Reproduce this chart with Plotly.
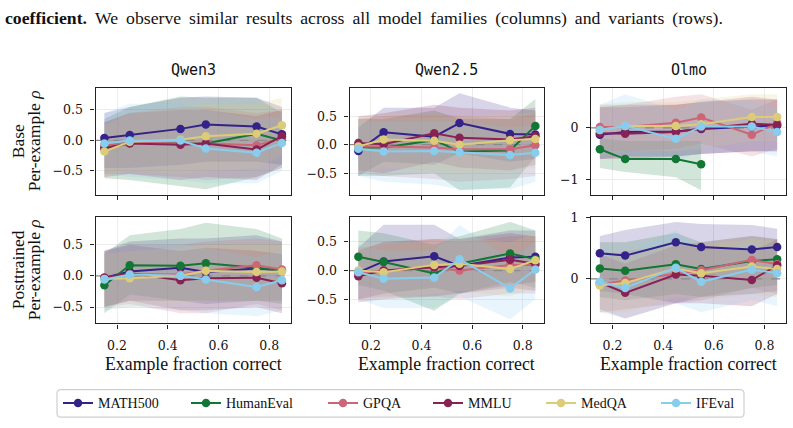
import plotly.graph_objects as go
from plotly.subplots import make_subplots

W, H = 793, 428

# ---------------- data ----------------
X = [0.15, 0.25, 0.45, 0.55, 0.75, 0.85]
SERIES = ["MATH500", "HumanEval", "GPQA", "MMLU", "MedQA", "IFEval"]
COLORS = ["#332288", "#117733", "#CC6677", "#882255", "#DDCC77", "#88CCEE"]
FAMILIES = ["Qwen3", "Qwen2.5", "Olmo"]
VARIANTS = ["Base", "Posttrained"]
X_TICKS = [0.2, 0.4, 0.6, 0.8]

# Qwen3 Base
QWEN3_BASE_MEAN = {
    "MATH500": [0.04, 0.09, 0.19, 0.26, 0.23, 0.10],
    "HumanEval": [-0.12, -0.03, -0.05, -0.05, 0.11, 0.00],
    "GPQA": [-0.08, -0.03, -0.05, -0.05, -0.08, 0.04],
    "MMLU": [-0.13, -0.05, -0.07, -0.05, -0.15, 0.07],
    "MedQA": [-0.18, -0.02, 0.01, 0.07, 0.11, 0.25],
    "IFEval": [-0.05, 0.00, 0.00, -0.13, -0.20, -0.04],
}
QWEN3_BASE_LO = {
    "MATH500": [-0.45, -0.45, -0.40, -0.35, -0.35, -0.40],
    "HumanEval": [-0.62, -0.65, -0.75, -0.80, -0.60, -0.45],
    "GPQA": [-0.55, -0.55, -0.60, -0.65, -0.60, -0.45],
    "MMLU": [-0.60, -0.55, -0.65, -0.60, -0.65, -0.40],
    "MedQA": [-0.60, -0.50, -0.55, -0.50, -0.45, -0.25],
    "IFEval": [-0.55, -0.60, -0.65, -0.70, -0.70, -0.50],
}
QWEN3_BASE_HI = {
    "MATH500": [0.45, 0.55, 0.70, 0.72, 0.70, 0.55],
    "HumanEval": [0.35, 0.55, 0.72, 0.70, 0.70, 0.45],
    "GPQA": [0.30, 0.45, 0.55, 0.55, 0.45, 0.50],
    "MMLU": [0.30, 0.45, 0.50, 0.50, 0.40, 0.50],
    "MedQA": [0.25, 0.45, 0.55, 0.60, 0.60, 0.70],
    "IFEval": [0.45, 0.60, 0.60, 0.50, 0.35, 0.40],
}

# Qwen2.5 Base
QWEN25_BASE_MEAN = {
    "MATH500": [-0.11, 0.22, 0.14, 0.38, 0.19, 0.18],
    "HumanEval": [-0.05, -0.05, 0.08, -0.12, -0.10, 0.33],
    "GPQA": [-0.03, -0.03, -0.05, -0.08, -0.08, -0.01],
    "MMLU": [0.03, 0.01, 0.20, 0.12, 0.09, 0.15],
    "MedQA": [-0.03, 0.09, 0.07, 0.00, 0.08, 0.10],
    "IFEval": [-0.07, -0.12, -0.11, -0.13, -0.18, -0.14],
}
QWEN25_BASE_LO = {
    "MATH500": [-0.55, -0.30, -0.35, -0.15, -0.30, -0.25],
    "HumanEval": [-0.55, -0.55, -0.50, -0.80, -0.75, -0.20],
    "GPQA": [-0.50, -0.55, -0.60, -0.65, -0.60, -0.55],
    "MMLU": [-0.45, -0.50, -0.30, -0.40, -0.45, -0.35],
    "MedQA": [-0.50, -0.40, -0.45, -0.50, -0.45, -0.40],
    "IFEval": [-0.55, -0.65, -0.70, -0.78, -0.78, -0.65],
}
QWEN25_BASE_HI = {
    "MATH500": [0.30, 0.65, 0.65, 0.90, 0.65, 0.60],
    "HumanEval": [0.45, 0.45, 0.60, 0.45, 0.45, 0.80],
    "GPQA": [0.45, 0.50, 0.55, 0.50, 0.45, 0.55],
    "MMLU": [0.50, 0.55, 0.70, 0.65, 0.60, 0.65],
    "MedQA": [0.45, 0.55, 0.55, 0.50, 0.55, 0.55],
    "IFEval": [0.40, 0.40, 0.40, 0.40, 0.30, 0.35],
}

# Olmo Base (HumanEval only has the first four bins)
OLMO_BASE_MEAN = {
    "MATH500": [-0.13, -0.08, -0.07, -0.02, 0.03, 0.05],
    "HumanEval": [-0.41, -0.60, -0.60, -0.70, None, None],
    "GPQA": [0.02, 0.02, 0.10, 0.20, -0.13, 0.09],
    "MMLU": [-0.10, -0.11, -0.08, -0.01, 0.08, 0.06],
    "MedQA": [-0.04, 0.04, 0.04, 0.07, 0.21, 0.21],
    "IFEval": [-0.04, 0.04, -0.21, 0.03, 0.03, -0.08],
}
OLMO_BASE_LO = {
    "MATH500": [-0.60, -0.55, -0.55, -0.50, -0.45, -0.45],
    "HumanEval": [-0.77, -0.85, -0.95, -1.20, None, None],
    "GPQA": [-0.45, -0.45, -0.40, -0.30, -0.55, -0.40],
    "MMLU": [-0.60, -0.60, -0.55, -0.50, -0.45, -0.45],
    "MedQA": [-0.50, -0.45, -0.45, -0.40, -0.25, -0.25],
    "IFEval": [-0.55, -0.50, -0.65, -0.45, -0.45, -0.55],
}
OLMO_BASE_HI = {
    "MATH500": [0.40, 0.45, 0.45, 0.50, 0.55, 0.55],
    "HumanEval": [-0.20, -0.25, -0.25, -0.25, None, None],
    "GPQA": [0.45, 0.45, 0.60, 0.65, 0.35, 0.55],
    "MMLU": [0.40, 0.40, 0.45, 0.50, 0.60, 0.55],
    "MedQA": [0.45, 0.50, 0.50, 0.55, 0.65, 0.65],
    "IFEval": [0.45, 0.65, 0.35, 0.55, 0.50, 0.40],
}

# Qwen3 Posttrained
QWEN3_POST_MEAN = {
    "MATH500": [-0.03, 0.07, 0.13, 0.06, 0.12, 0.08],
    "HumanEval": [-0.15, 0.17, 0.16, 0.20, 0.13, 0.08],
    "GPQA": [-0.03, 0.03, 0.02, 0.08, 0.17, 0.10],
    "MMLU": [-0.03, 0.04, -0.07, -0.04, -0.03, -0.12],
    "MedQA": [-0.05, -0.04, 0.00, 0.08, 0.06, 0.07],
    "IFEval": [-0.06, 0.02, 0.00, -0.06, -0.18, -0.07],
}
QWEN3_POST_LO = {
    "MATH500": [-0.50, -0.40, -0.40, -0.45, -0.40, -0.40],
    "HumanEval": [-0.60, -0.30, -0.40, -0.40, -0.40, -0.45],
    "GPQA": [-0.50, -0.45, -0.60, -0.60, -0.45, -0.55],
    "MMLU": [-0.50, -0.40, -0.55, -0.55, -0.50, -0.60],
    "MedQA": [-0.50, -0.50, -0.45, -0.40, -0.40, -0.40],
    "IFEval": [-0.55, -0.50, -0.55, -0.60, -0.65, -0.55],
}
QWEN3_POST_HI = {
    "MATH500": [0.40, 0.55, 0.60, 0.60, 0.65, 0.55],
    "HumanEval": [0.35, 0.65, 0.75, 0.85, 0.75, 0.60],
    "GPQA": [0.40, 0.50, 0.50, 0.55, 0.60, 0.55],
    "MMLU": [0.40, 0.50, 0.40, 0.45, 0.40, 0.35],
    "MedQA": [0.35, 0.40, 0.45, 0.50, 0.50, 0.50],
    "IFEval": [0.42, 0.50, 0.50, 0.45, 0.30, 0.40],
}

# Qwen2.5 Posttrained
QWEN25_POST_MEAN = {
    "MATH500": [-0.03, 0.16, 0.25, 0.08, 0.23, 0.24],
    "HumanEval": [0.24, 0.15, -0.05, 0.12, 0.30, 0.20],
    "GPQA": [-0.05, 0.00, 0.05, 0.00, 0.10, 0.10],
    "MMLU": [-0.10, 0.00, 0.06, 0.08, 0.19, 0.12],
    "MedQA": [0.00, -0.03, 0.10, 0.12, 0.03, 0.18],
    "IFEval": [-0.03, -0.14, -0.12, 0.20, -0.31, 0.02],
}
QWEN25_POST_LO = {
    "MATH500": [-0.50, -0.40, -0.30, -0.40, -0.25, -0.20],
    "HumanEval": [-0.25, -0.35, -0.70, -0.40, -0.20, -0.30],
    "GPQA": [-0.50, -0.45, -0.45, -0.50, -0.40, -0.40],
    "MMLU": [-0.55, -0.50, -0.45, -0.40, -0.30, -0.35],
    "MedQA": [-0.45, -0.50, -0.40, -0.35, -0.45, -0.30],
    "IFEval": [-0.50, -0.65, -0.65, -0.45, -0.85, -0.50],
}
QWEN25_POST_HI = {
    "MATH500": [0.40, 0.80, 0.80, 0.55, 0.70, 0.70],
    "HumanEval": [0.70, 0.65, 0.45, 0.60, 0.85, 0.70],
    "GPQA": [0.40, 0.45, 0.55, 0.50, 0.60, 0.60],
    "MMLU": [0.35, 0.50, 0.55, 0.55, 0.65, 0.60],
    "MedQA": [0.45, 0.45, 0.55, 0.60, 0.50, 0.65],
    "IFEval": [0.45, 0.35, 0.35, 0.80, 0.20, 0.50],
}

# Olmo Posttrained
OLMO_POST_MEAN = {
    "MATH500": [0.42, 0.38, 0.60, 0.52, 0.48, 0.52],
    "HumanEval": [0.17, 0.13, 0.24, 0.16, 0.29, 0.32],
    "GPQA": [-0.09, -0.03, 0.08, 0.14, 0.31, 0.24],
    "MMLU": [-0.06, -0.23, 0.07, 0.05, -0.02, 0.22],
    "MedQA": [-0.11, -0.07, 0.17, 0.09, 0.20, 0.16],
    "IFEval": [-0.05, -0.15, 0.18, -0.05, 0.15, 0.09],
}
OLMO_POST_LO = {
    "MATH500": [-0.20, -0.25, -0.40, -0.30, -0.25, -0.20],
    "HumanEval": [-0.30, -0.35, -0.25, -0.30, -0.15, -0.10],
    "GPQA": [-0.55, -0.50, -0.40, -0.35, -0.15, -0.25],
    "MMLU": [-0.50, -0.65, -0.40, -0.40, -0.45, -0.25],
    "MedQA": [-0.55, -0.55, -0.30, -0.35, -0.25, -0.30],
    "IFEval": [-0.55, -0.65, -0.40, -0.55, -0.35, -0.45],
}
OLMO_POST_HI = {
    "MATH500": [0.70, 0.80, 0.93, 0.90, 0.88, 0.82],
    "HumanEval": [0.60, 0.60, 0.75, 0.60, 0.70, 0.65],
    "GPQA": [0.35, 0.45, 0.55, 0.60, 0.70, 0.65],
    "MMLU": [0.40, 0.25, 0.55, 0.55, 0.45, 0.65],
    "MedQA": [0.35, 0.40, 0.60, 0.55, 0.65, 0.60],
    "IFEval": [0.45, 0.40, 0.80, 0.45, 0.60, 0.55],
}

PANELS = [
    [(QWEN3_BASE_MEAN, QWEN3_BASE_LO, QWEN3_BASE_HI),
     (QWEN25_BASE_MEAN, QWEN25_BASE_LO, QWEN25_BASE_HI),
     (OLMO_BASE_MEAN, OLMO_BASE_LO, OLMO_BASE_HI)],
    [(QWEN3_POST_MEAN, QWEN3_POST_LO, QWEN3_POST_HI),
     (QWEN25_POST_MEAN, QWEN25_POST_LO, QWEN25_POST_HI),
     (OLMO_POST_MEAN, OLMO_POST_LO, OLMO_POST_HI)],
]

CAPTION_BOLD = "coefficient."
CAPTION_REST = "We observe similar results across all model families (columns) and variants (rows)."

# ---------------- layout constants (pixels) ----------------
X_RANGE = [0.115, 0.885]
Y_RANGES = [
    [[-0.887, 0.861], [-0.874, 0.995], [-1.285, 0.772]],
    [[-0.763, 0.946], [-0.921, 0.938], [-0.732, 1.016]],
]
Y_TICKS = [
    [[-0.5, 0.0, 0.5], [-0.5, 0.0, 0.5], [-1, 0]],
    [[-0.5, 0.0, 0.5], [-0.5, 0.0, 0.5], [0, 1]],
]
Y_FMT = [[".1f", ".1f", "d"], [".1f", ".1f", "d"]]
COL_PX = [(95.5, 290.8), (349.5, 544.2), (591.0, 786.0)]
ROW_PX = [(82.3, 190.7), (213.3, 321.7)]

SERIF = "Liberation Serif"
TICKFONT = dict(family="DejaVu Serif", size=12.5, color="#111")


def px_x(v):
    return v / W


def px_y(v):
    return 1 - v / H


def hex_rgba(h, a):
    h = h.lstrip("#")
    return f"rgba({int(h[0:2],16)},{int(h[2:4],16)},{int(h[4:6],16)},{a})"


fig = make_subplots(rows=2, cols=3)

for r in range(2):
    for c in range(3):
        mean, lo, hi = PANELS[r][c]
        # bands
        for s, col in zip(SERIES, COLORS):
            xs = [x for x, v in zip(X, mean[s]) if v is not None]
            l = [v for v in lo[s] if v is not None]
            h = [v for v in hi[s] if v is not None]
            fig.add_trace(go.Scatter(
                x=xs + xs[::-1], y=h + l[::-1], fill="toself",
                fillcolor=hex_rgba(col, 0.19), line=dict(width=0),
                mode="lines", showlegend=False, hoverinfo="skip"),
                row=r + 1, col=c + 1)
        # zero reference line
        fig.add_trace(go.Scatter(
            x=X_RANGE, y=[0, 0], mode="lines",
            line=dict(color="#8a8a8a", width=1.2, dash="dash"),
            showlegend=False, hoverinfo="skip"), row=r + 1, col=c + 1)
        # mean lines
        for i, (s, col) in enumerate(zip(SERIES, COLORS)):
            xs = [x for x, v in zip(X, mean[s]) if v is not None]
            ys = [v for v in mean[s] if v is not None]
            fig.add_trace(go.Scatter(
                x=xs, y=ys, mode="lines+markers", name=s,
                line=dict(color=col, width=2),
                marker=dict(color=col, size=8.5),
                showlegend=(r == 0 and c == 0),
                legend="legend" if i == 0 else f"legend{i+1}"),
                row=r + 1, col=c + 1)

# axes
for r in range(2):
    for c in range(3):
        idx = r * 3 + c + 1
        xa = "xaxis" if idx == 1 else f"xaxis{idx}"
        ya = "yaxis" if idx == 1 else f"yaxis{idx}"
        x0, x1 = COL_PX[c]
        y0, y1 = ROW_PX[r]
        fig.layout[xa].update(
            domain=[px_x(x0), px_x(x1)], range=X_RANGE,
            tickvals=X_TICKS, tickformat=".1f", showticklabels=(r == 1),
            ticks="outside", ticklen=4, tickwidth=1, tickcolor="#222",
            showline=True, mirror=True, linecolor="#222", linewidth=1.2,
            showgrid=True, gridcolor="#ececec", gridwidth=0.8, zeroline=False,
            tickfont=TICKFONT, ticklabelstandoff=6)
        fig.layout[ya].update(
            domain=[px_y(y1), px_y(y0)], range=Y_RANGES[r][c],
            tickvals=Y_TICKS[r][c], tickformat=Y_FMT[r][c],
            ticks="outside", ticklen=4, tickwidth=1, tickcolor="#222",
            showline=True, mirror=True, linecolor="#222", linewidth=1.2,
            showgrid=True, gridcolor="#ececec", gridwidth=0.8, zeroline=False,
            tickfont=TICKFONT, ticklabelstandoff=5)

annotations = []
# caption line (justified in the source, so word gaps are slightly wider)
wide = " \u2009".join(CAPTION_REST.split(" "))
annotations.append(dict(
    text=f"<b>{CAPTION_BOLD}</b> \u2009{wide}",
    x=px_x(3), y=px_y(11), xref="paper", yref="paper", xanchor="left", yanchor="middle",
    showarrow=False, font=dict(family=SERIF, size=17.7, color="#111")))
# column titles
for c, fam in enumerate(FAMILIES):
    annotations.append(dict(
        text=fam, x=px_x(sum(COL_PX[c]) / 2), y=px_y(64), xref="paper", yref="paper",
        xanchor="center", yanchor="middle", showarrow=False,
        font=dict(family="DejaVu Sans Mono", size=15, color="#111")))
# row titles
for r, var in enumerate(VARIANTS):
    yc = px_y(sum(ROW_PX[r]) / 2)
    annotations.append(dict(
        text=var, x=px_x(18), y=yc, xref="paper", yref="paper", textangle=-90,
        xanchor="center", yanchor="middle", showarrow=False,
        font=dict(family=SERIF, size=17.5, color="#111")))
    annotations.append(dict(
        text="Per-example <i>ρ</i>", x=px_x(34), y=yc, xref="paper", yref="paper",
        textangle=-90, xanchor="center", yanchor="middle", showarrow=False,
        font=dict(family=SERIF, size=17.5, color="#111")))
# x-axis titles
for c in range(3):
    annotations.append(dict(
        text="Example fraction correct", x=px_x(sum(COL_PX[c]) / 2), y=px_y(363),
        xref="paper", yref="paper", xanchor="center", yanchor="middle",
        showarrow=False, font=dict(family=SERIF, size=17.8, color="#111")))

# legend: one box, entries placed individually
LEG_X = [62, 190, 327, 432, 545, 660]
LEG_Y = 403
legends = {}
for i, lx in enumerate(LEG_X):
    key = "legend" if i == 0 else f"legend{i+1}"
    legends[key] = dict(
        x=px_x(lx - 4), y=px_y(LEG_Y), xanchor="left", yanchor="middle",
        orientation="h", bgcolor="rgba(0,0,0,0)", borderwidth=0,
        font=dict(family=SERIF, size=14, color="#111"), itemwidth=30)

bx0, bx1, by0, by1, rad = 57, 744, 389, 417, 4
path = (f"M {px_x(bx0+rad)},{px_y(by0)} L {px_x(bx1-rad)},{px_y(by0)} "
        f"Q {px_x(bx1)},{px_y(by0)} {px_x(bx1)},{px_y(by0+rad)} "
        f"L {px_x(bx1)},{px_y(by1-rad)} Q {px_x(bx1)},{px_y(by1)} {px_x(bx1-rad)},{px_y(by1)} "
        f"L {px_x(bx0+rad)},{px_y(by1)} Q {px_x(bx0)},{px_y(by1)} {px_x(bx0)},{px_y(by1-rad)} "
        f"L {px_x(bx0)},{px_y(by0+rad)} Q {px_x(bx0)},{px_y(by0)} {px_x(bx0+rad)},{px_y(by0)} Z")

fig.update_layout(
    width=W, height=H, margin=dict(l=0, r=0, t=0, b=0),
    paper_bgcolor="white", plot_bgcolor="white",
    annotations=annotations,
    shapes=[dict(type="path", path=path, xref="paper", yref="paper",
                 line=dict(color="#cfcfcf", width=1.2), fillcolor="white", layer="below")],
    **legends,
)

fig.write_html("out.html")
